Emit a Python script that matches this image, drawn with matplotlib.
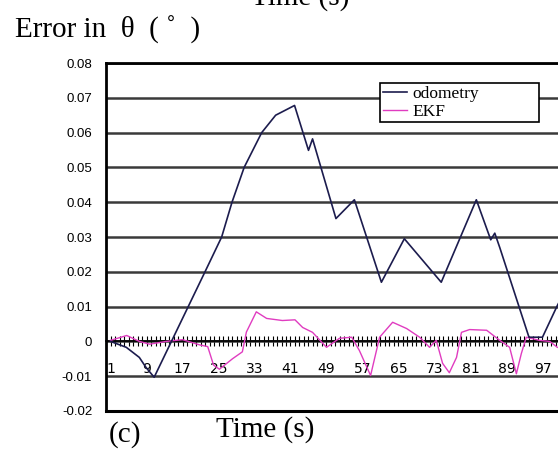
import numpy as np
import matplotlib.pyplot as plt

# odometry error
odo_t = [1, 4.5, 7.4, 8.9, 10.7, 22, 25.7, 28, 30.7, 34.6, 37.7, 41.9, 45, 45.9,
         51.1, 55.2, 61.2, 66.3, 74.5, 82.3, 85.5, 86.4, 87.5, 94, 97, 100.3, 101]
odo_v = [0.0, -0.0017, -0.0046, -0.0075, -0.0103, 0.02, 0.03, 0.04, 0.05, 0.06, 0.065, 0.0678,
         0.0549, 0.0582, 0.0353, 0.0407, 0.017, 0.0295, 0.017, 0.0407, 0.0292, 0.0311, 0.027,
         0.0012, 0.0012, 0.0103, 0.012]

# EKF error
ekf_t = [1, 4.6, 7.4, 9.7, 13.4, 17.0, 20.8, 22.6, 23.9, 25.2, 28.1, 30.3, 31.2, 33.4, 35.7,
         39.2, 42.0, 43.7, 45.9, 49, 51.9, 54.6, 56.3, 58.8, 60.8, 63.7, 66.8, 69.7, 71.9,
         73.4, 74.8, 76.3, 77.9, 79, 80.8, 84.6, 87.5, 89.7, 91.2, 92.3, 93.4, 96.3, 98.6, 100.3]
ekf_v = [0.0003, 0.0017, 0.0, -0.0008, 0.0, 0.0005, -0.001, -0.0015, -0.0068, -0.008, -0.005,
         -0.003, 0.0027, 0.0085, 0.0066, 0.006, 0.0062, 0.004, 0.0026, -0.0017, 0.0009, 0.0012,
         -0.0026, -0.0098, 0.0012, 0.0055, 0.0037, 0.0012, -0.0017, 0.0003, -0.0063, -0.009,
         -0.0046, 0.0026, 0.0034, 0.0032, 0.0003, -0.0017, -0.0093, -0.0035, 0.0012, 0.0003,
         0.0, -0.0017]

y_ticks = [-0.02, -0.01, 0, 0.01, 0.02, 0.03, 0.04, 0.05, 0.06, 0.07, 0.08]
y_labels = ['-0.02', '-0.01', '0', '0.01', '0.02', '0.03', '0.04', '0.05', '0.06', '0.07', '0.08']
x_major = list(range(1, 98, 8))

fig = plt.figure(figsize=(5.58, 4.51), dpi=100)
ax = fig.add_axes([0.19, 0.0887, 0.887, 0.7716])

ax.plot(odo_t, odo_v, color='#1c1c4e', lw=1.2, label='odometry', zorder=4)
ax.plot(ekf_t, ekf_v, color='#e03cc0', lw=1.0, label='EKF', zorder=3)

ax.set_xlim(0, 110)
ax.set_ylim(-0.02, 0.08)
ax.set_yticks(y_ticks)
ax.set_yticklabels(y_labels, family='Liberation Sans', fontsize=9.5)
ax.tick_params(axis='y', length=0, pad=10)

ax.set_xticks(x_major)
ax.set_xticklabels([str(v) for v in x_major], family='Liberation Sans', fontsize=9)
ax.set_xticks(range(0, 111), minor=True)
ax.tick_params(axis='x', which='both', direction='inout', length=7, width=0.8, pad=11)

ax.yaxis.grid(True, color='#3a3a3a', lw=1.8)
ax.set_axisbelow(True)

ax.spines['bottom'].set_position(('data', 0))
ax.spines['bottom'].set_linewidth(1.2)
ax.spines['left'].set_linewidth(2)
ax.spines['top'].set_linewidth(2)
ax.spines['right'].set_visible(False)
ax.axhline(-0.02, color='black', lw=2.2, clip_on=False)

leg = ax.legend(loc='upper left', bbox_to_anchor=(0.681, 0.732, 0.285, 0.084),
                bbox_transform=fig.transFigure, mode='expand', borderaxespad=0,
                fancybox=False, edgecolor='black', framealpha=1, borderpad=0.15,
                labelspacing=0.1, handlelength=1.4, handletextpad=0.3,
                prop={'family': 'Liberation Serif', 'size': 12.5})
leg.get_frame().set_linewidth(1.2)

fig.text(15 / 558, 1 - 30 / 451, 'Error in  θ  ( ˚  )', family='Liberation Serif',
         fontsize=21, va='center', ha='left')
fig.text(300 / 558, 1 - 5 / 451, 'Time (s)', family='Liberation Serif',
         fontsize=21, va='baseline', ha='center')
fig.text(265 / 558, 1 - 430 / 451, 'Time (s)', family='Liberation Serif',
         fontsize=21, va='center', ha='center')
fig.text(125 / 558, 1 - 435 / 451, '(c)', family='Liberation Serif',
         fontsize=21, va='center', ha='center')

fig.savefig('out.png', dpi=100)
